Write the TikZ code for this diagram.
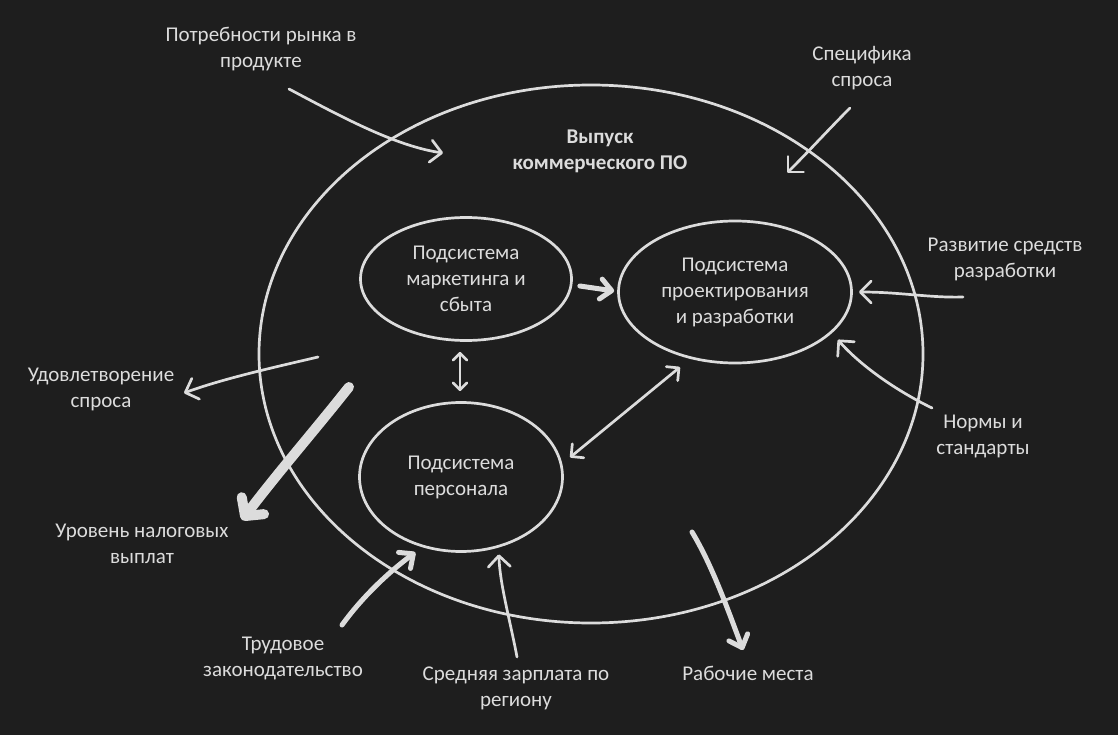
\documentclass[tikz,border=0pt]{standalone}
\usepackage{fontspec}
\setmainfont{Carlito}
\usetikzlibrary{arrows.meta,shapes.geometric,calc}
\definecolor{bgc}{HTML}{1E1E1E}
\definecolor{ink}{HTML}{DCDCDC}
\begin{document}
\begin{tikzpicture}[x=1pt,y=-1pt,
  lbl/.style={text=ink,font=\fontsize{21}{26}\selectfont,align=center,inner sep=0pt},
  ttl/.style={text=ink,font=\fontsize{21}{26}\selectfont\bfseries,align=center,inner sep=0pt},
  ell/.style={draw=ink,line width=2.7pt,ellipse,inner sep=0pt},
  sketch/.style={draw=ink,line width=2.7pt,line cap=round,line join=round},
  medsketch/.style={draw=ink,line width=5pt,line cap=round,line join=round},
  bigsketch/.style={draw=ink,line width=10pt,line cap=round,line join=round},
  thinhead/.style={-{Straight Barb[length=11pt,width=22pt,round]}},
  thinboth/.style={{Straight Barb[length=9pt,width=18pt,round]}-{Straight Barb[length=9pt,width=18pt,round]}},
  smallboth/.style={{Straight Barb[length=7pt,width=14pt,round]}-{Straight Barb[length=7pt,width=14pt,round]}},
  medhead/.style={-{Straight Barb[length=11pt,width=20pt,round]}},
  bighead/.style={-{Straight Barb[length=13pt,width=28pt,round]}}
]
\fill[bgc] (0,0) rectangle (1118,735);
\useasboundingbox (0,0) rectangle (1118,735);

% main system
\node[ell,minimum width=664pt,minimum height=538pt] (sys) at (591,354) {};
\node[ttl] (title) at (600,151) {Выпуск\\коммерческого ПО};

% subsystems
\node[ell,lbl,minimum width=211pt,minimum height=123pt] (mkt) at (466,279) {Подсистема\\маркетинга и\\сбыта};
\node[ell,lbl,minimum width=233pt,minimum height=142pt] (dsg) at (735,292) {Подсистема\\проектирования\\и разработки};
\node[ell,lbl,minimum width=203pt,minimum height=149pt] (pers) at (461,477) {Подсистема\\персонала};

% outer labels
\node[lbl] (need) at (261,49) {Потребности рынка в\\продукте};
\node[lbl] (spec) at (862,68) {Специфика\\спроса};
\node[lbl] (dev) at (1005,259) {Развитие средств\\разработки};
\node[lbl] (norm) at (983,436) {Нормы и\\стандарты};
\node[lbl] (sat) at (101,389) {Удовлетворение\\спроса};
\node[lbl] (tax) at (142,544) {Уровень налоговых\\выплат};
\node[lbl] (lab) at (283,658) {Трудовое\\законодательство};
\node[lbl] (sal) at (516,688) {Средняя зарплата по\\региону};
\node[lbl] (job) at (748,673) {Рабочие места};

% connector end points
\coordinate (needS) at (289,89);
\coordinate (needE) at (443,153);
\coordinate (specS) at (850,108);
\coordinate (specE) at (787,173);
\coordinate (devS) at (963,297);
\coordinate (devE) at ($(dsg.east)+(6,0)$);
\coordinate (normS) at (932,408);
\coordinate (normE) at ($(dsg.-25)+(9,4)$);
\coordinate (mdS) at ($(mkt.east)+(7,7)$);
\coordinate (mdE) at ($(dsg.west)+(-3,-1)$);
\coordinate (dpA) at ($(dsg.-126)+(-7,9)$);
\coordinate (dpB) at ($(pers.10)+(9,-2)$);
\coordinate (mpA) at ($(mkt.south)+(-6,10)$);
\coordinate (mpB) at ($(pers.north)+(-1,-10)$);
\coordinate (satS) at (318,357);
\coordinate (satE) at (184,393);
\coordinate (taxS) at (349,387);
\coordinate (taxE) at (242,520);
\coordinate (labS) at (342,625);
\coordinate (labE) at ($(pers.-121)+(-4,6)$);
\coordinate (salS) at (517,657);
\coordinate (salE) at ($(pers.-64)+(3,6)$);
\coordinate (jobS) at (692,532);
\coordinate (jobE) at (743,650);

% connectors
\draw[sketch,thinhead] (needS) .. controls (340,116) and (395,146) .. (needE);
\draw[sketch,thinhead] (specS) .. controls (830,128) and (810,150) .. (specE);
\draw[sketch,thinhead] (devS) .. controls (930,298) and (900,292) .. (devE);
\draw[sketch,thinhead] (normS) .. controls (895,390) and (860,365) .. (normE);
\draw[medsketch,medhead] (mdS) -- (mdE);
\draw[sketch,thinboth] (dpA) -- (dpB);
\draw[sketch,smallboth] (mpA) -- (mpB);
\draw[sketch,thinhead] (satS) .. controls (280,366) and (225,378) .. (satE);
\draw[bigsketch,bighead] (taxS) .. controls (315,430) and (280,470) .. (taxE);
\draw[medsketch,medhead] (labS) .. controls (360,600) and (385,575) .. (labE);
\draw[sketch,thinhead] (salS) .. controls (510,620) and (500,585) .. (salE);
\draw[medsketch,medhead] (jobS) .. controls (712,565) and (728,610) .. (jobE);
\end{tikzpicture}
\end{document}
